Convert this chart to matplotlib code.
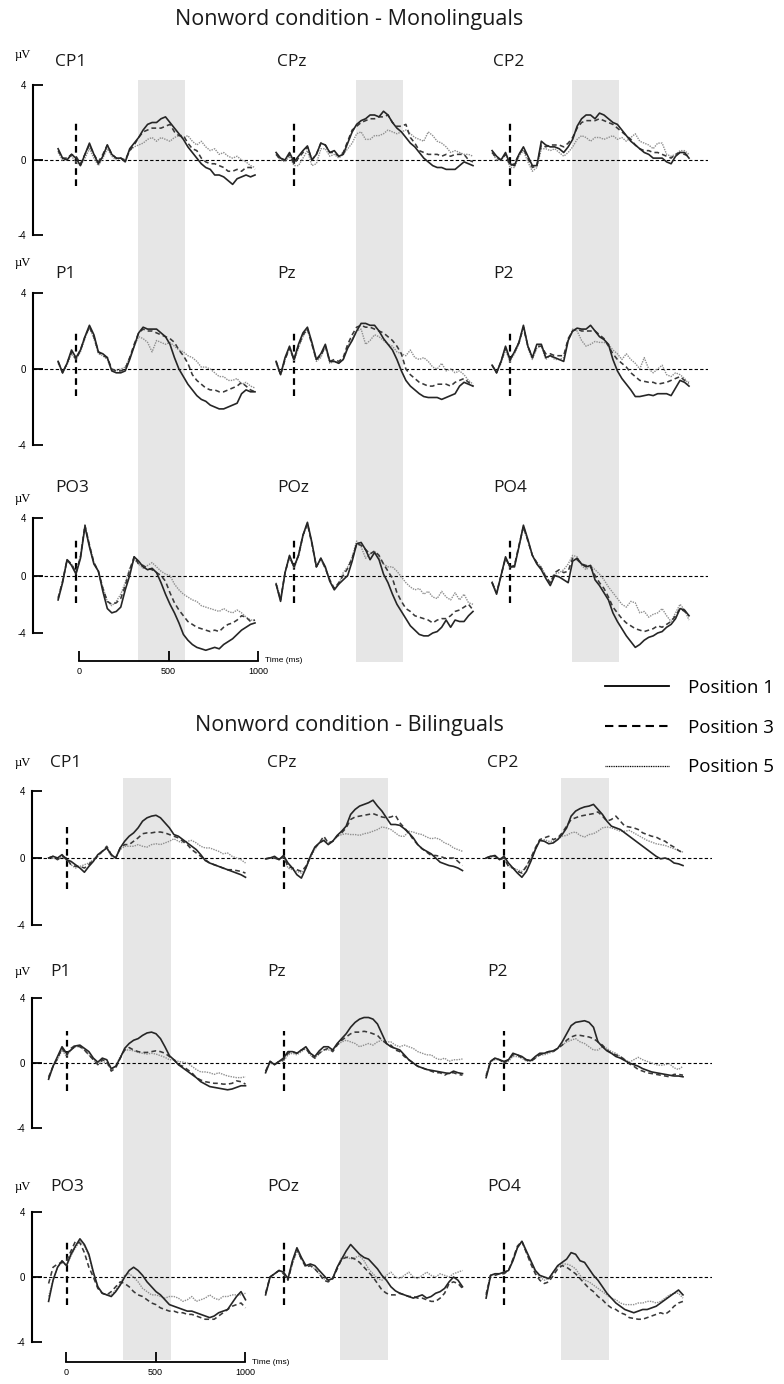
import matplotlib
matplotlib.use("Agg")
import matplotlib.pyplot as plt
from matplotlib.lines import Line2D

plt.rcParams['font.family'] = ['Open Sans', 'DejaVu Sans']

W, H = 784, 1384

# sample times (ms) of every trace
TIMES = list(range(-100, 1001, 25))

CHANNELS = [['CP1', 'CPz', 'CP2'], ['P1', 'Pz', 'P2'], ['PO3', 'POz', 'PO4']]
LEGEND_LABELS = ['Position 1', 'Position 3', 'Position 5']

# ---- monolinguals (µV) ----
M_CP1_1 = [0.6,0.1,0.0,0.3,0.1,-0.3,0.3,0.9,0.3, -0.2,0.2,0.8,0.3,0.1,0.1,-0.1,0.6,0.9, 1.2,1.6,1.9,2.0,2.0,2.2,2.3,2.0,1.7, 1.4,1.1,0.7,0.4,0.1,-0.2,-0.4,-0.5,-0.8, -0.8,-0.9,-1.1,-1.3,-1.0,-0.9,-0.8,-0.9,-0.8]
M_CP1_3 = [0.5,0.1,0.1,0.3,0.2,-0.2,0.3,0.8,0.3, -0.1,0.3,0.8,0.3,0.1,0.1,0.0,0.5,0.8, 1.2,1.5,1.6,1.7,1.7,1.7,1.8,1.9,1.5, 1.3,1.3,0.9,0.6,0.5,0.1,-0.1,-0.2,-0.2, -0.3,-0.4,-0.6,-0.6,-0.5,-0.6,-0.4,-0.4,-0.5]
M_CP1_5 = [0.4,0.0,0.1,0.2,-0.1,-0.3,0.1,0.6,0.1, -0.3,0.1,0.6,0.2,0.0,0.1,-0.1,0.5,0.7, 0.8,0.9,1.1,1.2,1.0,1.2,1.1,1.0,1.2, 1.3,1.2,1.3,1.0,0.8,1.0,0.7,0.5,0.6, 0.3,0.4,0.2,0.1,0.2,0.0,-0.1,-0.3,-0.4]
M_CPz_1 = [0.4,0.1,0.0,0.4,-0.1,0.2,0.5,0.75,0.0, 0.3,0.9,0.8,0.4,0.5,0.2,0.3,0.9,1.5, 1.9,2.1,2.2,2.4,2.4,2.3,2.6,2.4,2.0, 1.7,1.5,1.2,0.9,0.7,0.4,0.1,-0.1,-0.3, -0.4,-0.4,-0.5,-0.5,-0.5,-0.3,-0.1,-0.2,-0.3]
M_CPz_3 = [0.3,0.0,0.0,0.3,-0.2,0.1,0.4,0.7,0.0, 0.3,0.9,0.8,0.4,0.4,0.2,0.4,1.0,1.6, 1.8,2.0,2.1,2.2,2.2,2.3,2.3,2.4,2.0, 1.8,1.8,1.9,1.2,0.9,0.5,0.4,0.3,0.3, 0.3,0.2,0.3,0.2,0.3,0.3,0.3,0.0,-0.1]
M_CPz_5 = [0.3,0.0,-0.1,0.2,-0.3,-0.3,0.1,0.5,-0.3, -0.2,0.6,0.6,0.2,0.3,0.1,0.3,0.6,0.9, 1.4,1.5,1.1,1.1,1.3,1.3,1.4,1.6,1.5, 1.4,1.5,1.6,1.4,1.2,1.1,1.0,1.5,1.3, 1.0,0.9,0.7,0.4,0.5,0.4,0.3,0.3,0.2]
M_CP2_1 = [0.5,0.2,0.0,0.4,-0.2,-0.3,0.3,0.7,0.2, -0.3,-0.3,1.0,0.8,0.7,0.7,0.6,0.4,0.7, 1.1,1.8,2.2,2.4,2.4,2.2,2.5,2.4,2.2, 2.0,1.9,1.6,1.3,1.0,0.8,0.6,0.4,0.3, 0.1,0.1,0.1,-0.1,-0.2,0.2,0.4,0.4,0.1]
M_CP2_3 = [0.4,0.1,0.0,0.3,-0.3,-0.2,0.3,0.6,0.1, -0.4,-0.3,0.8,0.7,0.8,0.8,0.8,0.7,0.9, 1.2,1.7,2.0,2.1,2.1,2.1,2.2,2.1,2.0, 1.9,1.7,1.5,1.3,1.1,0.8,0.6,0.5,0.5, 0.4,0.4,0.3,0.2,0.1,0.3,0.4,0.3,0.2]
M_CP2_5 = [0.4,0.0,0.0,0.3,-0.4,-0.4,0.2,0.5,-0.1, -0.6,-0.4,0.6,0.6,0.5,0.6,0.4,0.2,0.4, 0.7,1.1,1.3,1.2,1.0,1.2,1.2,1.1,1.2, 1.3,1.1,1.2,1.0,1.2,1.4,1.0,0.9,0.8, 0.6,0.9,0.9,0.3,0.2,0.3,0.5,0.5,0.3]
M_P1_1 = [0.4,-0.2,0.3,1.0,0.6,1.0,1.7,2.3,1.8, 0.9,0.8,0.6,-0.1,-0.2,-0.2,-0.1,0.5,1.2, 1.9,2.2,2.1,2.1,2.1,1.9,1.7,1.3,0.6, 0.0,-0.4,-0.8,-1.1,-1.4,-1.6,-1.7,-1.9,-2.0, -2.1,-2.1,-2.0,-1.9,-1.8,-1.3,-1.1,-1.2,-1.2]
M_P1_3 = [0.4,-0.2,0.3,0.9,0.5,1.0,1.7,2.2,1.7, 0.9,0.7,0.6,0.0,-0.1,-0.1,0.0,0.6,1.3, 1.9,2.1,2.0,2.0,1.9,1.8,1.7,1.6,1.4, 1.0,0.7,0.3,-0.3,-0.6,-0.8,-1.0,-1.1,-1.1, -1.2,-1.2,-1.1,-1.0,-0.9,-0.7,-0.9,-1.1,-1.2]
M_P1_5 = [0.3,-0.2,0.2,0.8,0.5,0.9,1.6,2.2,1.6, 0.8,0.7,0.5,-0.1,-0.1,0.0,0.1,0.6,1.2, 1.7,1.6,1.4,0.9,1.5,1.4,1.3,1.4,1.2, 1.0,0.9,0.7,0.6,0.4,0.1,0.1,0.0,-0.2, -0.4,-0.4,-0.6,-0.6,-0.5,-0.8,-0.7,-0.9,-1.0]
M_Pz_1 = [0.4,-0.3,0.6,1.2,0.5,1.3,1.9,2.2,1.4, 0.5,0.8,1.3,0.4,0.4,0.3,0.5,1.1,1.5, 2.0,2.4,2.4,2.3,2.3,2.0,1.6,1.3,1.0, 0.5,-0.1,-0.6,-0.9,-1.1,-1.3,-1.45,-1.5,-1.5, -1.5,-1.6,-1.5,-1.4,-1.3,-0.9,-0.7,-0.8,-0.9]
M_Pz_3 = [0.4,-0.3,0.5,1.1,0.5,1.2,1.8,2.1,1.3, 0.5,0.7,1.2,0.4,0.5,0.4,0.6,1.3,1.8, 2.2,2.3,2.2,2.2,2.1,2.0,1.9,1.7,1.5, 1.2,0.8,0.0,-0.3,-0.5,-0.7,-0.8,-0.9,-0.9, -0.8,-0.8,-0.8,-0.9,-0.7,-0.6,-0.5,-0.7,-0.9]
M_Pz_5 = [0.3,-0.3,0.5,1.1,0.4,1.1,1.7,2.1,1.3, 0.4,0.6,1.2,0.3,0.4,0.3,0.5,1.2,1.6, 2.0,2.1,1.3,1.5,1.8,1.7,1.5,1.3,1.2, 0.9,0.8,0.7,1.0,0.6,0.5,0.6,0.4,0.1, 0.0,0.3,-0.1,0.0,-0.2,-0.1,-0.3,-0.6,-0.8]
M_P2_1 = [0.2,-0.2,0.4,1.2,0.5,0.9,1.4,2.3,1.2, 0.6,1.3,1.3,0.6,0.7,0.6,0.5,0.4,1.5, 2.0,2.15,2.1,2.1,2.3,2.0,1.7,1.55,1.3, 0.5,-0.1,-0.5,-0.8,-1.1,-1.45,-1.45,-1.4,-1.35, -1.4,-1.3,-1.3,-1.3,-1.4,-1.0,-0.6,-0.7,-0.9]
M_P2_3 = [0.2,-0.2,0.4,1.1,0.5,0.9,1.4,2.2,1.2, 0.6,1.2,1.2,0.8,0.8,0.7,0.7,0.7,1.6, 2.0,2.1,2.0,2.0,2.0,2.0,1.8,1.6,1.2, 0.8,0.5,0.3,0.1,-0.2,-0.4,-0.6,-0.65,-0.7, -0.7,-0.8,-0.75,-0.7,-0.6,-0.5,-0.4,-0.6,-0.7]
M_P2_5 = [0.2,-0.2,0.3,1.0,0.4,0.8,1.3,2.2,1.1, 0.5,1.1,1.2,0.5,0.7,0.5,0.5,0.6,1.5, 2.1,2.0,1.5,1.2,1.3,1.45,1.4,1.4,1.3, 1.0,0.8,0.5,0.8,0.5,0.3,0.0,0.6,0.0, -0.2,0.0,0.2,-0.3,-0.4,-0.2,-0.3,-0.5,-0.8]
M_PO3_1 = [-1.7,-0.5,1.1,0.7,0.1,1.2,3.4,2.0,0.8, 0.3,-1.1,-2.3,-2.6,-2.5,-2.2,-1.0,0.0,1.3, 1.0,0.6,0.4,0.5,0.2,-0.5,-1.3,-2.0,-2.6, -3.3,-4.1,-4.5,-4.8,-5.0,-5.1,-5.2,-5.1,-5.0, -5.1,-4.8,-4.6,-4.4,-4.1,-3.8,-3.6,-3.4,-3.3]
M_PO3_3 = [-1.6,-0.4,1.1,0.8,0.2,1.3,3.5,2.1,0.9, 0.3,-0.9,-1.8,-2.0,-1.9,-1.6,-0.7,0.4,1.3, 0.8,0.7,0.5,0.4,0.2,0.0,-0.4,-1.2,-1.9, -2.4,-2.8,-3.2,-3.4,-3.6,-3.7,-3.8,-3.9,-3.8, -3.9,-3.6,-3.4,-3.3,-3.1,-2.8,-2.9,-3.2,-3.1]
M_PO3_5 = [-1.5,-0.4,1.0,0.8,0.2,1.4,3.5,2.2,0.9, 0.3,-0.8,-1.8,-2.1,-1.8,-1.3,-0.5,0.5,1.1, 0.8,0.5,0.7,0.9,0.6,0.3,0.1,0.0,-0.6, -1.0,-1.3,-1.5,-1.7,-1.8,-2.1,-2.2,-2.3,-2.4, -2.5,-2.3,-2.5,-2.6,-2.4,-2.6,-2.9,-3.1,-3.1]
M_POz_1 = [-0.6,-1.8,0.2,1.4,0.6,1.4,2.8,3.7,2.3, 0.6,1.2,0.6,-0.4,-1.0,-0.6,-0.3,0.0,1.0, 2.2,2.3,1.8,1.1,1.6,1.1,0.1,-0.5,-1.3, -2.0,-2.5,-3.0,-3.5,-3.8,-4.1,-4.2,-4.2,-4.0, -3.9,-3.6,-3.1,-3.6,-3.1,-3.2,-3.2,-2.8,-2.5]
M_POz_3 = [-0.6,-1.7,0.2,1.3,0.6,1.4,2.8,3.6,2.2, 0.6,1.2,0.5,-0.3,-0.9,-0.5,0.0,0.5,1.2, 2.2,2.1,1.8,1.5,1.7,1.4,0.8,0.3,-0.2, -1.2,-1.8,-2.3,-2.5,-2.8,-2.9,-3.0,-3.1,-3.3, -3.1,-3.0,-3.0,-2.8,-2.5,-2.4,-2.2,-2.0,-2.4]
M_POz_5 = [-0.5,-1.6,0.2,1.3,0.5,1.3,2.7,3.6,2.2, 0.6,1.1,0.5,-0.4,-0.9,-0.6,0.2,0.6,1.3, 2.4,2.0,1.2,1.5,1.7,1.3,0.8,0.6,0.6, 0.3,-0.1,-0.5,-0.8,-1.0,-0.9,-1.3,-1.1,-1.5, -1.6,-1.1,-1.5,-1.7,-1.2,-1.7,-1.3,-1.9,-2.0]
M_PO4_1 = [-0.5,-1.3,0.0,1.3,0.6,0.6,2.0,3.5,2.5, 1.4,0.8,0.4,-0.2,-0.7,0.0,-0.1,-0.3,-0.5, 1.0,1.2,0.8,0.6,0.7,-0.3,-0.7,-1.2,-1.7, -2.6,-3.2,-3.7,-4.2,-4.6,-5.0,-4.8,-4.5,-4.3, -4.2,-4.0,-3.9,-3.6,-3.4,-3.0,-2.3,-2.4,-2.8]
M_PO4_3 = [-0.5,-1.2,0.0,1.2,0.6,0.7,2.1,3.4,2.4, 1.4,0.9,0.5,-0.1,-0.5,0.2,0.4,0.2,0.3, 1.2,1.1,0.8,0.7,0.6,0.0,-0.5,-0.9,-1.5, -2.2,-2.6,-3.0,-3.3,-3.5,-3.7,-3.8,-3.9,-3.8, -3.7,-3.5,-3.6,-3.4,-3.2,-2.8,-2.3,-2.5,-2.8]
M_PO4_5 = [-0.4,-1.2,0.0,1.2,0.5,0.7,2.0,3.3,2.4, 1.4,0.9,0.6,0.0,-0.5,0.1,0.2,0.4,0.8, 1.4,1.3,0.7,0.4,0.7,0.4,0.1,-0.3,-0.8, -1.2,-1.6,-2.0,-2.2,-1.8,-1.9,-2.6,-2.5,-2.9, -2.7,-2.6,-2.3,-2.8,-3.2,-2.6,-2.0,-2.4,-3.1]

# ---- bilinguals (µV) ----
B_CP1_1 = [0.0,0.1,0.0,0.2,-0.1,-0.2,-0.4,-0.6,-0.85, -0.5,-0.2,0.2,0.4,0.6,0.2,0.0,0.6,1.0, 1.3,1.5,1.8,2.2,2.4,2.5,2.55,2.4,2.1, 1.8,1.4,1.3,1.1,0.9,0.7,0.5,0.2,-0.15, -0.3,-0.4,-0.5,-0.6,-0.7,-0.8,-0.9,-1.0,-1.15]
B_CP1_3 = [0.0,0.1,-0.1,0.1,0.0,-0.4,-0.5,-0.5,-0.6, -0.4,-0.1,0.1,0.4,0.7,0.2,0.0,0.6,0.8, 0.8,1.0,1.2,1.45,1.5,1.5,1.55,1.55,1.5, 1.4,1.3,1.2,1.0,0.8,0.5,0.3,0.1,-0.1, -0.3,-0.4,-0.5,-0.6,-0.7,-0.7,-0.75,-0.8,-0.9]
B_CP1_5 = [0.0,0.0,-0.1,0.1,-0.1,-0.4,-0.6,-0.5,-0.4, -0.3,-0.1,0.1,0.4,0.6,0.1,0.0,0.5,0.7, 0.7,0.7,0.8,0.7,0.65,0.8,0.85,0.8,0.9, 1.0,1.15,1.0,0.9,1.0,1.05,0.9,0.7,0.6, 0.6,0.5,0.4,0.25,0.3,0.1,0.0,-0.1,-0.3]
B_CPz_1 = [-0.05,0.0,0.1,-0.1,0.15,-0.3,-0.6,-1.0,-1.2, -0.6,0.1,0.65,0.9,1.05,0.8,1.0,1.35,1.6, 1.9,2.6,2.9,3.1,3.2,3.3,3.45,3.1,2.8, 2.4,2.0,2.0,1.95,1.75,1.5,1.2,0.8,0.55, 0.4,0.25,0.0,-0.25,-0.35,-0.45,-0.5,-0.6,-0.75]
B_CPz_3 = [-0.05,0.0,0.0,-0.1,0.1,-0.5,-0.6,-0.7,-0.8, -0.5,0.1,0.6,0.9,1.3,0.9,1.0,1.3,1.5, 1.8,2.3,2.45,2.5,2.55,2.6,2.65,2.55,2.45, 2.4,2.45,2.55,2.1,1.8,1.5,1.1,0.8,0.55, 0.35,0.15,0.15,0.1,0.0,0.0,0.0,-0.2,-0.45]
B_CPz_5 = [-0.05,0.0,0.0,-0.1,0.1,-0.6,-0.7,-0.8,-0.9, -0.6,0.0,0.5,0.9,1.1,0.9,1.0,1.3,1.4, 1.45,1.4,1.4,1.35,1.45,1.5,1.6,1.7,1.85, 1.8,1.7,1.5,1.3,1.3,1.6,1.55,1.45,1.4, 1.25,1.15,1.2,1.1,0.9,0.8,0.6,0.5,0.4]
B_CP2_1 = [0.0,0.1,0.15,-0.1,0.1,-0.3,-0.6,-0.9,-1.15, -0.8,-0.2,0.5,1.05,1.0,0.85,0.9,1.1,1.4, 1.8,2.5,2.8,2.95,3.05,3.1,3.2,2.9,2.6, 2.2,1.9,1.8,1.7,1.5,1.3,1.1,0.9,0.7, 0.5,0.3,0.1,-0.05,0.0,-0.1,-0.3,-0.35,-0.45]
B_CP2_3 = [0.0,0.1,0.1,-0.1,0.0,-0.5,-0.6,-0.8,-0.9, -0.5,0.0,0.6,1.1,1.2,1.3,1.1,1.2,1.5, 1.9,2.3,2.4,2.5,2.55,2.6,2.65,2.75,2.5, 2.2,2.3,2.5,2.2,1.9,1.85,1.8,1.7,1.5, 1.4,1.3,1.25,1.1,1.0,0.8,0.65,0.45,0.3]
B_CP2_5 = [0.0,0.05,0.1,-0.1,0.0,-0.5,-0.6,-0.7,-0.8, -0.5,0.0,0.5,1.0,1.1,1.0,1.0,1.1,1.3, 1.35,1.5,1.55,1.35,1.25,1.4,1.45,1.6,1.8, 1.85,1.8,1.7,1.6,1.6,1.65,1.5,1.35,1.2, 1.05,0.95,0.85,0.8,0.75,0.65,0.55,0.45,0.35]
B_P1_1 = [-1.0,-0.2,0.4,1.0,0.6,0.8,1.05,1.1,0.9, 0.7,0.3,0.05,0.3,0.2,-0.35,-0.2,0.3,0.9, 1.2,1.4,1.5,1.7,1.85,1.9,1.8,1.5,1.0, 0.45,0.2,-0.1,-0.3,-0.5,-0.7,-0.9,-1.15,-1.3, -1.45,-1.5,-1.55,-1.6,-1.65,-1.6,-1.5,-1.4,-1.4]
B_P1_3 = [-0.9,-0.2,0.3,0.9,0.5,0.9,1.1,1.0,0.8, 0.5,0.2,-0.1,0.2,0.1,-0.5,-0.3,0.3,0.8, 0.95,0.8,0.7,0.65,0.65,0.7,0.75,0.7,0.6, 0.4,0.2,-0.1,-0.2,-0.4,-0.6,-0.9,-1.05,-1.15, -1.2,-1.25,-1.25,-1.3,-1.3,-1.25,-1.1,-1.15,-1.3]
B_P1_5 = [-0.8,-0.2,0.2,0.8,0.4,0.8,1.0,1.0,0.8, 0.5,0.2,-0.1,0.1,0.0,-0.4,-0.2,0.4,0.8, 0.8,0.75,0.65,0.6,0.55,0.6,0.55,0.45,0.35, 0.2,0.2,0.1,0.05,0.0,-0.2,-0.4,-0.55,-0.55, -0.6,-0.7,-0.6,-0.7,-0.8,-0.85,-0.9,-0.9,-0.85]
B_Pz_1 = [-0.6,0.1,-0.1,0.1,0.3,0.7,0.7,0.6,0.8, 1.0,0.6,0.4,0.75,1.0,1.0,0.8,1.2,1.5, 1.8,2.2,2.5,2.7,2.8,2.8,2.7,2.4,1.8, 1.2,1.0,0.9,0.8,0.5,0.2,0.0,-0.2,-0.3, -0.4,-0.45,-0.5,-0.55,-0.6,-0.65,-0.5,-0.6,-0.65]
B_Pz_3 = [-0.5,0.1,-0.1,0.1,0.2,0.6,0.7,0.6,0.8, 0.9,0.5,0.3,0.6,0.8,0.9,0.7,1.1,1.4, 1.6,1.8,1.9,1.9,1.95,1.9,1.8,1.7,1.4, 1.2,1.1,0.8,0.7,0.4,0.2,0.0,-0.2,-0.3, -0.4,-0.5,-0.6,-0.6,-0.75,-0.6,-0.6,-0.7,-0.75]
B_Pz_5 = [-0.5,0.0,-0.1,0.1,0.1,0.5,0.6,0.5,0.7, 0.9,0.5,0.3,0.6,0.8,0.8,0.8,1.1,1.3, 1.4,1.3,1.2,1.0,1.1,1.2,1.1,1.3,1.4, 1.3,1.3,1.1,1.0,1.1,1.0,0.9,0.7,0.6, 0.5,0.5,0.3,0.2,0.3,0.1,0.2,0.2,0.25]
B_P2_1 = [-0.9,0.1,0.3,0.2,0.1,0.2,0.6,0.5,0.4, 0.2,0.15,0.4,0.6,0.6,0.7,0.75,0.9,1.3, 1.8,2.3,2.5,2.55,2.6,2.5,2.2,1.3,1.0, 0.75,0.6,0.4,0.3,0.15,0.0,-0.1,-0.2,-0.35, -0.45,-0.55,-0.6,-0.65,-0.7,-0.75,-0.8,-0.8,-0.85]
B_P2_3 = [-0.8,0.1,0.3,0.2,0.0,0.2,0.5,0.5,0.3, 0.2,0.1,0.3,0.5,0.6,0.7,0.7,0.9,1.1, 1.4,1.6,1.7,1.7,1.65,1.6,1.5,1.3,1.1, 0.8,0.6,0.5,0.4,0.2,-0.05,-0.2,-0.4,-0.5, -0.6,-0.65,-0.7,-0.75,-0.8,-0.85,-0.7,-0.7,-0.75]
B_P2_5 = [-0.7,0.1,0.2,0.2,0.0,0.1,0.4,0.4,0.3, 0.1,0.1,0.3,0.5,0.5,0.6,0.7,0.9,1.1, 1.3,1.4,1.5,1.3,1.2,1.0,0.8,0.8,1.0, 0.9,0.7,0.6,0.4,0.2,0.05,0.2,0.35,0.2, 0.1,0.0,-0.1,-0.15,-0.1,-0.05,-0.3,-0.4,-0.2]
B_PO3_1 = [-1.5,-0.2,0.6,1.0,0.7,1.4,1.9,2.35,2.0, 1.4,0.3,-0.6,-1.0,-1.1,-1.2,-0.9,-0.5,0.0, 0.4,0.6,0.4,0.1,-0.3,-0.6,-0.9,-1.1,-1.4, -1.7,-1.8,-1.9,-2.0,-2.1,-2.1,-2.2,-2.3,-2.4, -2.5,-2.4,-2.2,-2.1,-2.0,-1.6,-1.2,-0.9,-1.4]
B_PO3_3 = [-0.4,0.6,0.8,0.9,1.0,1.6,2.2,2.1,1.5, 0.6,0.0,-0.7,-1.0,-1.1,-0.9,-0.6,-0.3,-0.4, -0.6,-0.9,-1.1,-1.2,-1.4,-1.6,-1.7,-1.9,-2.0, -2.1,-2.1,-2.2,-2.2,-2.3,-2.3,-2.4,-2.5,-2.6, -2.6,-2.6,-2.4,-2.2,-2.0,-1.8,-1.7,-1.6,-1.9]
B_PO3_5 = [-1.2,-0.2,0.6,0.9,0.7,1.3,1.8,2.2,1.9, 1.3,0.2,-0.6,-1.0,-1.1,-1.1,-0.8,-0.4,0.1, 0.2,0.0,-0.3,-0.7,-0.9,-1.1,-1.1,-1.2,-1.3, -1.2,-1.2,-1.3,-1.5,-1.4,-1.2,-1.5,-1.4,-1.3, -1.1,-1.3,-1.4,-1.2,-1.2,-1.1,-1.1,-1.1,-1.0]
B_POz_1 = [-1.1,0.0,0.2,0.4,0.3,-0.1,1.0,1.8,1.2, 0.7,0.8,0.7,0.4,0.1,-0.2,-0.1,0.6,1.1, 1.6,2.0,1.7,1.4,1.2,1.1,0.8,0.5,0.1, -0.2,-0.6,-0.85,-1.0,-1.1,-1.2,-1.3,-1.2,-1.1, -1.3,-1.2,-1.0,-0.9,-0.7,-0.3,0.0,-0.2,-0.6]
B_POz_3 = [-1.0,0.0,0.2,0.4,0.2,-0.2,0.9,1.7,1.1, 0.6,0.7,0.5,0.2,-0.2,-0.3,-0.1,0.5,1.1, 1.2,1.2,1.1,0.9,0.6,0.3,0.0,-0.4,-0.8, -1.0,-1.1,-1.1,-1.0,-1.1,-1.2,-1.2,-1.3,-1.3, -1.4,-1.5,-1.5,-1.3,-1.0,-0.4,-0.3,-0.4,-0.7]
B_POz_5 = [-1.0,0.0,0.2,0.4,0.3,-0.1,0.8,1.6,1.1, 0.7,0.7,0.5,0.2,-0.1,-0.2,0.0,0.6,1.2, 1.3,1.1,1.2,1.3,1.0,0.5,0.2,-0.1,-0.2, 0.1,0.3,0.0,-0.1,0.1,0.3,0.0,-0.1,0.1, 0.3,0.1,0.0,0.2,0.1,0.0,0.2,0.3,0.4]
B_PO4_1 = [-1.3,0.1,0.2,0.2,0.3,0.4,1.0,1.8,2.2, 1.6,1.0,0.4,0.1,0.0,-0.1,0.3,0.7,0.9, 1.1,1.5,1.4,1.0,0.9,0.5,0.1,-0.2,-0.6, -1.0,-1.3,-1.6,-1.8,-2.0,-2.1,-2.2,-2.1,-2.0, -2.0,-1.9,-1.8,-1.6,-1.4,-1.2,-1.0,-0.8,-1.1]
B_PO4_3 = [-1.1,0.1,0.1,0.2,0.2,0.4,1.1,1.9,2.2, 1.5,0.8,0.2,-0.2,-0.4,-0.3,0.1,0.5,0.7, 0.6,0.4,0.2,-0.1,-0.4,-0.7,-0.9,-1.2,-1.4, -1.7,-1.9,-2.0,-2.2,-2.3,-2.5,-2.55,-2.6,-2.6, -2.5,-2.4,-2.3,-2.2,-2.3,-2.1,-1.8,-1.6,-1.5]
B_PO4_5 = [-1.0,0.1,0.2,0.2,0.3,0.4,1.1,1.8,2.2, 1.5,0.9,0.3,0.0,-0.2,-0.1,0.3,0.6,0.8, 0.8,0.7,0.5,0.1,-0.2,-0.3,-0.5,-0.7,-0.9, -1.1,-1.3,-1.4,-1.6,-1.7,-1.7,-1.7,-1.6,-1.6, -1.5,-1.5,-1.6,-1.5,-1.3,-1.1,-1.0,-1.0,-1.3]

MONO = {
    'CP1': (M_CP1_1, M_CP1_3, M_CP1_5), 'CPz': (M_CPz_1, M_CPz_3, M_CPz_5), 'CP2': (M_CP2_1, M_CP2_3, M_CP2_5),
    'P1': (M_P1_1, M_P1_3, M_P1_5), 'Pz': (M_Pz_1, M_Pz_3, M_Pz_5), 'P2': (M_P2_1, M_P2_3, M_P2_5),
    'PO3': (M_PO3_1, M_PO3_3, M_PO3_5), 'POz': (M_POz_1, M_POz_3, M_POz_5), 'PO4': (M_PO4_1, M_PO4_3, M_PO4_5),
}
BILI = {
    'CP1': (B_CP1_1, B_CP1_3, B_CP1_5), 'CPz': (B_CPz_1, B_CPz_3, B_CPz_5), 'CP2': (B_CP2_1, B_CP2_3, B_CP2_5),
    'P1': (B_P1_1, B_P1_3, B_P1_5), 'Pz': (B_Pz_1, B_Pz_3, B_Pz_5), 'P2': (B_P2_1, B_P2_3, B_P2_5),
    'PO3': (B_PO3_1, B_PO3_3, B_PO3_5), 'POz': (B_POz_1, B_POz_3, B_POz_5), 'PO4': (B_PO4_1, B_PO4_3, B_PO4_5),
}

# ---- layout (pixels of the 784x1384 canvas) ----
PX_MS = 0.179
X_LO, X_HI = -250, 1100

SECTIONS = [
    dict(title='Nonword condition - Monolinguals', title_y=20, data=MONO,
         onsets=[76, 294, 510], rows=[(85, 235), (293, 445), (518, 633)],
         band=(345, 610), band_y=(80, 662), axis_x=33, zero_end=708,
         vline=[(-1.4, 2.0), (-1.4, 2.0), (-1.9, 2.6)],
         label_x=[55, 277, 493], label_y=[62, 274, 488], uv_y=[55, 263, 499],
         bar_x0=79, bar_y=661),
    dict(title='Nonword condition - Bilinguals', title_y=725, data=BILI,
         onsets=[66.5, 283.5, 504], rows=[(791, 925), (998, 1128), (1212, 1342)],
         band=(318, 585), band_y=(778, 1360), axis_x=32, zero_end=712,
         vline=[(-1.85, 1.85), (-1.7, 2.0), (-1.7, 2.2)],
         label_x=[50, 267, 487], label_y=[763, 972, 1187], uv_y=[763, 972, 1187],
         bar_x0=66, bar_y=1362),
]

STYLES = [dict(color='#262626', lw=1.2, ls='-'),
          dict(color='#3a3a3a', lw=1.15, ls=(0, (3, 2))),
          dict(color='#8f8f8f', lw=1.0, ls=(0, (1, 0.8)))]


def fig_box(x0, y0, x1, y1):
    return [x0 / W, 1 - y1 / H, (x1 - x0) / W, (y1 - y0) / H]


fig = plt.figure(figsize=(W / 100, H / 100), dpi=100)

for sec in SECTIONS:
    fig.text(349 / W, 1 - sec['title_y'] / H, sec['title'], ha='center', va='center',
             fontsize=15.5, color='#1a1a1a')

    # grey analysis window, one strip per column
    for onset in sec['onsets']:
        bax = fig.add_axes(fig_box(onset + X_LO * PX_MS, sec['band_y'][0],
                                   onset + X_HI * PX_MS, sec['band_y'][1]), zorder=0)
        bax.set_xlim(X_LO, X_HI)
        bax.axvspan(sec['band'][0], sec['band'][1], color='#e6e6e6', lw=0)
        bax.axis('off')

    for r, (y_top, y_bot) in enumerate(sec['rows']):
        frame = fig.add_axes(fig_box(sec['axis_x'], y_top, sec['zero_end'], y_bot), zorder=1)
        frame.patch.set_alpha(0)
        frame.set_xlim(0, 1)
        frame.set_ylim(-4, 4)
        frame.axhline(0, color='black', lw=0.8, ls=(0, (3, 2)))
        for s in ['top', 'right', 'bottom']:
            frame.spines[s].set_visible(False)
        frame.spines['left'].set_linewidth(1.5)
        frame.set_xticks([])
        frame.set_yticks([-4, 0, 4])
        frame.set_yticklabels(['-4', '0', '4'], fontfamily='Liberation Sans')
        frame.tick_params(axis='y', direction='in', length=7.5, width=1.3, labelsize=7, pad=5)

        fig.text(15 / W, 1 - sec['uv_y'][r] / H, 'µV', fontsize=9, fontfamily='Liberation Serif',
                 ha='left', va='center')

        for c, onset in enumerate(sec['onsets']):
            ch = CHANNELS[r][c]
            ax = fig.add_axes(fig_box(onset + X_LO * PX_MS, y_top, onset + X_HI * PX_MS, y_bot), zorder=2)
            ax.set_xlim(X_LO, X_HI)
            ax.set_ylim(-4, 4)
            ax.axis('off')
            ax.vlines(0, sec['vline'][r][0], sec['vline'][r][1], colors='black',
                      linestyles=(0, (3, 2)), lw=1.6)
            for vals, sty in zip(reversed(sec['data'][ch]), reversed(STYLES)):
                ax.plot(TIMES[:len(vals)], vals, clip_on=False, **sty)
            fig.text(sec['label_x'][c] / W, 1 - sec['label_y'][r] / H, ch, fontsize=12.5,
                     ha='left', va='center', color='#1a1a1a')

    # time scale bar
    tax = fig.add_axes(fig_box(sec['bar_x0'] + X_LO * PX_MS, sec['bar_y'] - 20,
                               sec['bar_x0'] + X_HI * PX_MS, sec['bar_y']), zorder=3)
    tax.patch.set_alpha(0)
    tax.set_xlim(X_LO, X_HI)
    for s in ['top', 'right', 'left']:
        tax.spines[s].set_visible(False)
    tax.spines['bottom'].set_bounds(0, 1000)
    tax.spines['bottom'].set_linewidth(1.3)
    tax.set_yticks([])
    tax.set_xticks([0, 500, 1000])
    tax.set_xticklabels(['0', '500', '1000'], fontfamily='Liberation Sans')
    tax.tick_params(axis='x', direction='in', length=7.5, width=1.3, labelsize=6.5, pad=4)
    tax.text(1040, 0, 'Time (ms)', transform=tax.get_xaxis_transform(), fontsize=6,
             ha='left', va='center', fontfamily='Liberation Sans')

# legend
handles = [Line2D([], [], color='black', lw=1.3, ls='-'),
           Line2D([], [], color='black', lw=1.5, ls=(0, (4, 2.5))),
           Line2D([], [], color='black', lw=0.9, ls=(0, (0.8, 0.6)))]
fig.legend(handles, LEGEND_LABELS, loc='upper left', bbox_to_anchor=(605 / W, 1 - 679 / H),
           frameon=False, fontsize=13.5, handlelength=3.4, handletextpad=1.0,
           labelspacing=1.15, borderpad=0, borderaxespad=0)

fig.savefig('out.png', dpi=100)
